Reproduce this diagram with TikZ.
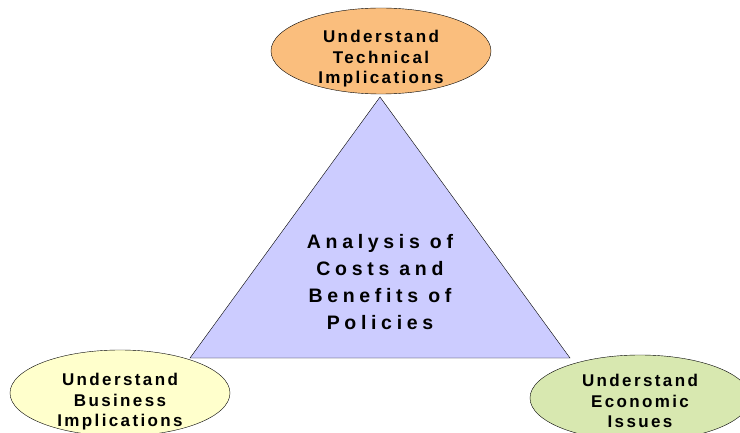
\documentclass[tikz,border=0pt]{standalone}
\usepackage{fontspec}
\newfontfamily\goalfont{Liberation Sans}[LetterSpace=14]
\newfontfamily\centerfont{Liberation Sans}[LetterSpace=24]
\usetikzlibrary{shapes.geometric}

\definecolor{techorange}{RGB}{250,190,125}
\definecolor{busyellow}{RGB}{255,255,204}
\definecolor{ecogreen}{RGB}{216,232,176}
\definecolor{triblue}{RGB}{204,204,255}

\tikzstyle{goal} = [ellipse, draw, thin, minimum width=220pt, minimum height=86pt, inner sep=0pt]
\tikzstyle{goaltext} = [align=center, inner sep=0pt, font=\goalfont\bfseries\fontsize{17}{20.5}\selectfont]

\begin{document}
\begin{tikzpicture}[x=1pt,y=-1pt]
\useasboundingbox (0,0) rectangle (740,433);
% the three goals
\node [goal, fill=techorange] (tech) at (381,51) {};
\node [goal, fill=busyellow] (bus) at (120,393) {};
\node [goal, fill=ecogreen] (eco) at (640,398) {};
\node [goaltext] (techtext) at ([yshift=-8pt]tech.center) {Understand\\Technical\\Implications};
\node [goaltext] (bustext) at ([yshift=-9pt]bus.center) {Understand\\Business\\Implications};
\node [goaltext] (ecotext) at ([yshift=-3pt]eco.center) {Understand\\Economic\\Issues};
% triangle in the middle
\coordinate (apex) at (380,97);
\coordinate (left) at (190,358);
\coordinate (right) at (570,358);
\draw [thin, fill=triblue] (apex) -- (left) -- (right) -- cycle;
\node [align=center, font=\centerfont\bfseries\fontsize{19.5}{27}\selectfont] (analysis) at (380,282)
	{Analysis of\\Costs and\\Benefits of\\Policies};
\end{tikzpicture}
\end{document}
